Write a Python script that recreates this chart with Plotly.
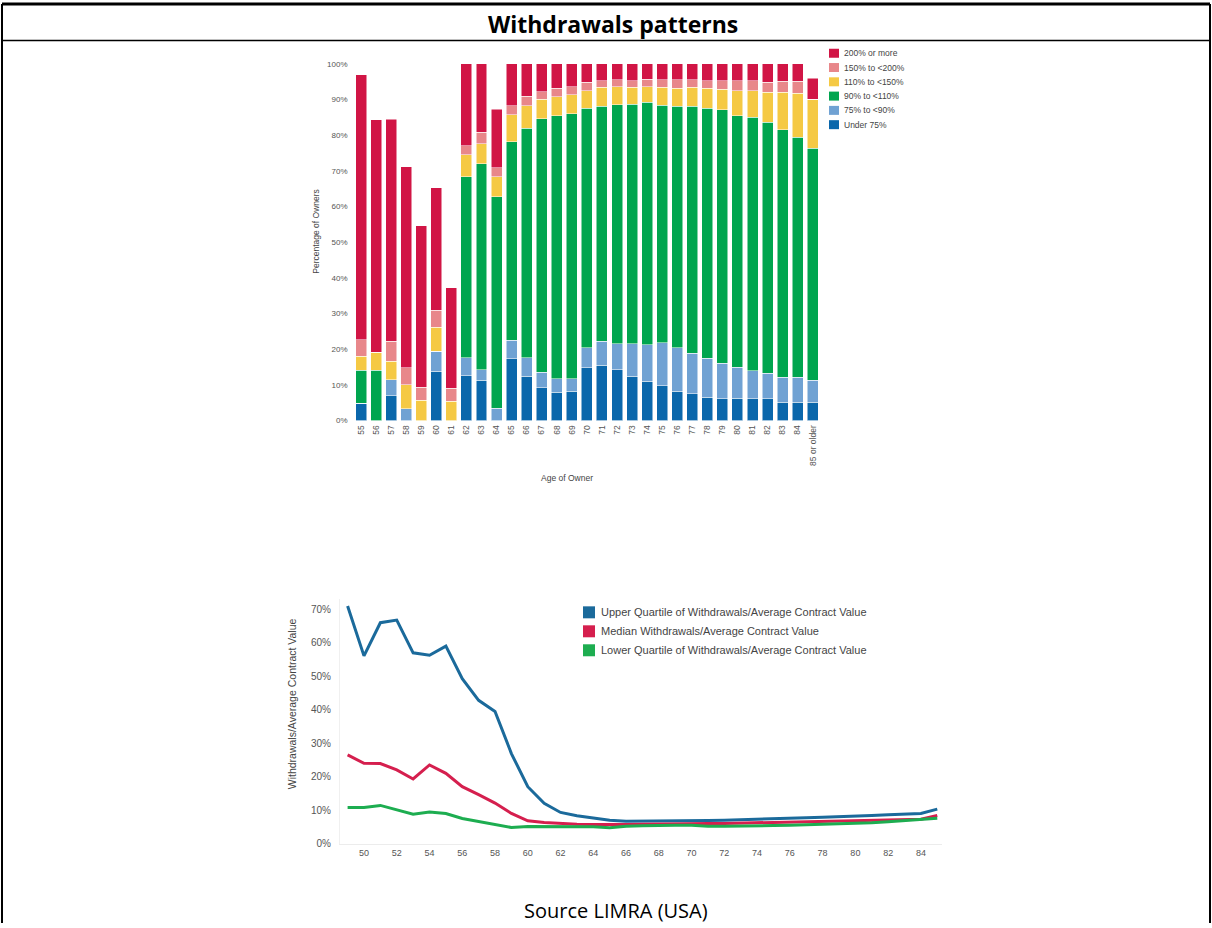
import plotly.graph_objects as go

W, H = 1212, 928

# ---------------- Top chart data (percentage of owners by age) ----------------
ages = ["55", "56", "57", "58", "59", "60", "61", "62", "63", "64", "65", "66", "67", "68",
        "69", "70", "71", "72", "73", "74", "75", "76", "77", "78", "79", "80", "81", "82",
        "83", "84", "85 or older"]
under_75 = [4.9, 0, 7.0, 0, 0, 13.8, 0, 12.6, 11.3, 0, 17.3, 12.4, 9.2, 8.0, 8.2, 14.8, 15.5,
            14.3, 12.4, 11.0, 9.8, 8.2, 7.5, 6.6, 6.1, 6.3, 6.1, 6.1, 5.1, 5.1, 5.1]
p75_90 = [0, 0, 4.5, 3.3, 0, 5.6, 0, 5.0, 3.0, 3.5, 5.2, 5.2, 4.4, 3.7, 3.5, 5.6, 6.7, 7.3,
          9.2, 10.3, 12.0, 12.2, 11.3, 10.8, 9.9, 8.6, 7.9, 7.1, 7.0, 7.0, 6.2]
p90_110 = [9.2, 14.1, 0, 0, 0, 0, 0, 50.8, 57.7, 59.2, 55.7, 64.4, 71.0, 73.7, 74.3, 67.2,
           66.0, 66.9, 67.1, 67.9, 66.6, 67.8, 69.4, 70.2, 71.1, 70.5, 71.1, 70.4, 69.4, 67.3, 65.1]
p110_150 = [3.9, 5.0, 5.1, 6.7, 5.7, 6.8, 5.4, 6.1, 5.6, 5.6, 7.5, 6.3, 5.5, 5.4, 5.3, 4.9,
            5.3, 5.1, 4.7, 4.4, 5.1, 5.0, 5.2, 5.6, 5.8, 7.1, 7.4, 8.5, 10.6, 12.4, 13.7]
p150_200 = [4.7, 0, 5.6, 4.8, 3.7, 4.7, 3.7, 2.6, 3.3, 2.6, 2.6, 2.6, 2.1, 2.4, 2.3, 2.3, 1.8,
            1.9, 1.9, 2.1, 2.0, 2.3, 2.1, 2.1, 2.4, 2.8, 2.8, 2.8, 3.0, 3.3, 0]
p200_plus = [74.3, 65.2, 62.3, 56.3, 45.2, 34.4, 28.2, 22.9, 19.1, 16.4, 11.7, 9.1, 7.8, 6.8,
             6.4, 5.2, 4.7, 4.5, 4.7, 4.3, 4.5, 4.5, 4.5, 4.7, 4.7, 4.7, 4.7, 5.1, 4.9, 4.9, 5.9]

bar_names = ["Under 75%", "75% to <90%", "90% to <110%", "110% to <150%", "150% to <200%", "200% or more"]
bar_values = [under_75, p75_90, p90_110, p110_150, p150_200, p200_plus]
bar_colors = ["#0A67AB", "#70A2D3", "#00A54F", "#F5C944", "#E8878A", "#D11545"]
pct_ticks_top = [0, 10, 20, 30, 40, 50, 60, 70, 80, 90, 100]

# ---------------- Bottom chart data (withdrawals / average contract value) ----------------
years = list(range(49, 86))
upper_q = [71.0, 56.1, 66.0, 66.8, 57.0, 56.3, 59.0, 49.3, 42.8, 39.5, 26.9, 17.0, 12.0, 9.3,
           8.3, 7.6, 7.0, 6.7, 6.7, 6.7, 6.8, 6.8, 6.9, 7.0, 7.1, 7.3, 7.4, 7.6, 7.7, 7.9, 8.0,
           8.2, 8.4, 8.6, 8.8, 9.0, 10.3]
median_q = [26.5, 24.0, 23.9, 22.0, 19.3, 23.5, 21.0, 17.0, 14.6, 12.1, 9.0, 6.8, 6.3, 6.0,
            5.8, 5.7, 5.6, 5.7, 5.8, 5.9, 5.9, 6.0, 6.0, 6.0, 6.1, 6.2, 6.3, 6.4, 6.5, 6.5, 6.6,
            6.7, 6.8, 6.9, 7.1, 7.3, 8.4]
lower_q = [10.8, 10.8, 11.4, 10.0, 8.8, 9.4, 9.0, 7.5, 6.6, 5.8, 4.8, 5.1, 5.1, 5.1, 5.1, 5.0,
           4.7, 5.2, 5.3, 5.5, 5.5, 5.5, 5.2, 5.2, 5.2, 5.3, 5.4, 5.5, 5.6, 5.7, 5.8, 6.0, 6.2,
           6.5, 6.8, 7.1, 7.6]
line_names = ["Upper Quartile of Withdrawals/Average Contract Value",
              "Median Withdrawals/Average Contract Value",
              "Lower Quartile of Withdrawals/Average Contract Value"]
line_values = [upper_q, median_q, lower_q]
line_colors = ["#1B6A9B", "#D51F4E", "#1DAD50"]
year_ticks = list(range(50, 85, 2))
pct_ticks_bottom = [0, 10, 20, 30, 40, 50, 60, 70]

# rendering compensation (observed vertical mapping of the capture)
Y_OFF, Y_SCALE = 4.0, 0.9914


def px_x(x):
    return x / W


def px_y(y):
    yd = (y - Y_OFF) / Y_SCALE
    return 1 - yd / H


fig = go.Figure()

for name, vals, col in zip(bar_names, bar_values, bar_colors):
    fig.add_trace(go.Bar(x=ages, y=vals, name=name,
                         marker=dict(color=col, line=dict(color="white", width=0.5)),
                         xaxis="x", yaxis="y", showlegend=False))

for name, vals, col in zip(line_names, line_values, line_colors):
    fig.add_trace(go.Scatter(x=years, y=vals, name=name, mode="lines", line=dict(color=col, width=3),
                             xaxis="x2", yaxis="y2", showlegend=False))

font_main = "Liberation Sans, Arial, sans-serif"
tick_col = "#555555"

fig.update_layout(
    width=W, height=H, margin=dict(l=0, r=0, t=0, b=0),
    paper_bgcolor="white", plot_bgcolor="white",
    barmode="stack", bargap=0.27,
    font=dict(family=font_main, color="#444444"),
    xaxis=dict(domain=[px_x(353.5), px_x(820.3)], anchor="y", type="category",
               tickangle=-90, tickfont=dict(size=8.5, color=tick_col), showgrid=False,
               showline=False, zeroline=False, ticks="", ticklabelstandoff=2),
    yaxis=dict(domain=[px_y(421), px_y(64)], anchor="x", range=[0, 100],
               tickvals=pct_ticks_top, ticktext=[f"{v}%" for v in pct_ticks_top],
               tickfont=dict(size=8, color=tick_col), showgrid=False, zeroline=False,
               showline=False, ticks="", ticklabelstandoff=5),
    xaxis2=dict(domain=[px_x(340), px_x(942)], anchor="y2", range=[48.536, 85.289],
                tickvals=year_ticks, tickfont=dict(size=9, color=tick_col), showgrid=False,
                zeroline=False, showline=True, linecolor="#ececec", linewidth=1, ticks=""),
    yaxis2=dict(domain=[px_y(845), px_y(600)], anchor="x2", range=[-0.15, 72.99],
                tickvals=pct_ticks_bottom, ticktext=[f"{v}%" for v in pct_ticks_bottom],
                tickfont=dict(size=10, color=tick_col), showgrid=False, zeroline=False,
                showline=True, linecolor="#f0f0f0", linewidth=1, ticks="", ticklabelstandoff=6),
)

shapes = []
annotations = []

# Frame (table borders)
top_y = 1.0
frame = [
    (dict(x0=px_x(2), x1=px_x(1210), y0=top_y, y1=top_y), 3),
    (dict(x0=px_x(2), x1=px_x(2), y0=top_y, y1=0), 2),
    (dict(x0=px_x(1210), x1=px_x(1210), y0=top_y, y1=0), 2),
    (dict(x0=px_x(2), x1=px_x(1210), y0=px_y(40.5), y1=px_y(40.5)), 1.5),
]
for coords, w in frame:
    shapes.append(dict(type="line", xref="paper", yref="paper", line=dict(color="black", width=w), **coords))

# Top legend (compact)
top_legend_order = list(zip(bar_names, bar_colors))[::-1]
for i, (name, col) in enumerate(top_legend_order):
    yc = 53.3 + i * 14.3
    shapes.append(dict(type="rect", xref="paper", yref="paper", x0=px_x(829), x1=px_x(839),
                       y0=px_y(yc + 4.5), y1=px_y(yc - 4.5), fillcolor=col, line=dict(width=0)))
    annotations.append(dict(text=name, xref="paper", yref="paper", x=px_x(842), y=px_y(yc),
                            xanchor="left", yanchor="middle", showarrow=False,
                            font=dict(size=8.5, color="#444444", family=font_main)))

# Bottom legend
for i, (name, col) in enumerate(zip(line_names, line_colors)):
    yc = 613 + i * 19
    shapes.append(dict(type="rect", xref="paper", yref="paper", x0=px_x(583), x1=px_x(595),
                       y0=px_y(yc + 6), y1=px_y(yc - 6), fillcolor=col, line=dict(width=0)))
    annotations.append(dict(text=name, xref="paper", yref="paper", x=px_x(599), y=px_y(yc),
                            xanchor="left", yanchor="middle", showarrow=False,
                            font=dict(size=11, color="#444444", family=font_main)))

# Titles and axis titles
annotations += [
    dict(text="<b>Withdrawals patterns</b>", xref="paper", yref="paper", x=px_x(613), y=px_y(24),
         showarrow=False, xanchor="center", yanchor="middle",
         font=dict(size=23, color="black", family="Open Sans, sans-serif")),
    dict(text="Source LIMRA (USA)", xref="paper", yref="paper", x=px_x(616), y=px_y(912),
         showarrow=False, xanchor="center", yanchor="middle",
         font=dict(size=20, color="black", family="Open Sans, sans-serif")),
    dict(text="Age of Owner", xref="paper", yref="paper", x=px_x(567), y=px_y(479),
         showarrow=False, xanchor="center", yanchor="middle",
         font=dict(size=8.5, color="#444444", family=font_main)),
    dict(text="Percentage of Owners", xref="paper", yref="paper", x=px_x(316), y=px_y(232),
         showarrow=False, xanchor="center", yanchor="middle", textangle=-90,
         font=dict(size=8.5, color="#444444", family=font_main)),
    dict(text="Withdrawals/Average Contract Value", xref="paper", yref="paper", x=px_x(292),
         y=px_y(705), showarrow=False, xanchor="center", yanchor="middle", textangle=-90,
         font=dict(size=10.5, color="#444444", family=font_main)),
]

fig.update_layout(shapes=shapes, annotations=annotations)

fig.write_html("out.html", config={"displayModeBar": False},
               post_script="document.body.style.margin='0';document.body.style.overflow='hidden';")
